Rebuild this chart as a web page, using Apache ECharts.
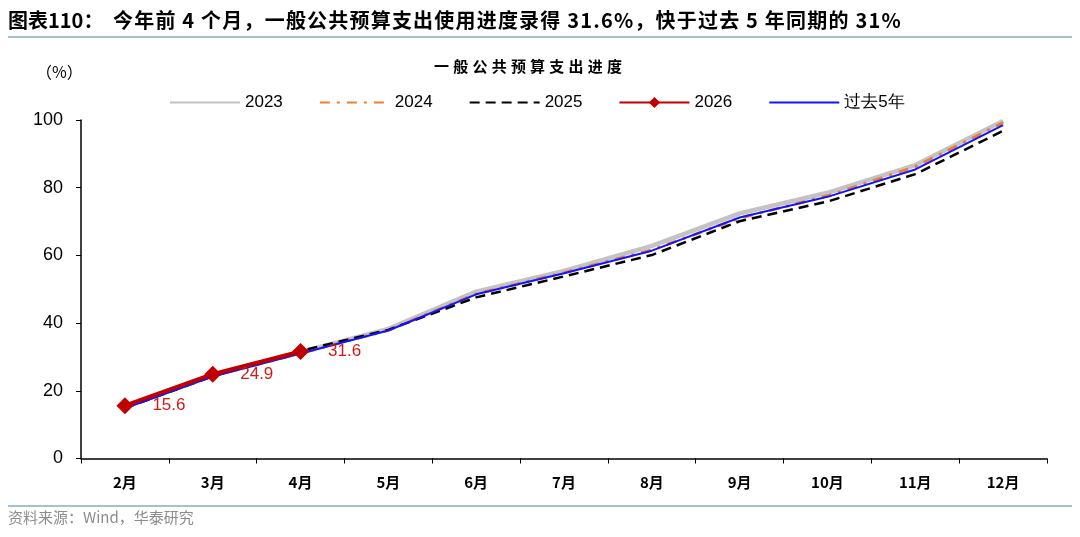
<!DOCTYPE html>
<html lang="zh">
<head>
  <meta charset="utf-8">
  <style>
    html, body { margin: 0; padding: 0; background: #fff; }
    #container { width: 1080px; height: 537px; }
  </style>
  <title>一般公共预算支出进度</title>
</head>
<body>
  <div id="container"></div>
  <script src="https://cdn.jsdelivr.net/npm/echarts@6/dist/echarts.min.js"></script>
  <script>
    // months on the x axis
    var months = ['2月', '3月', '4月', '5月', '6月', '7月', '8月', '9月', '10月', '11月', '12月'];
    // progress (%)
    var y2023 = [15.5, 24.8, 31.4, 38.3, 49.3, 55.4, 62.8, 72.4, 78.5, 86.7, 99.7];
    var y2024 = [15.0, 24.4, 31.1, 37.9, 48.6, 54.9, 61.6, 71.0, 77.6, 86.2, 99.2];
    var y2025 = [14.9, 24.3, 31.8, 38.0, 47.6, 53.8, 60.1, 70.1, 75.9, 84.0, 96.8];
    var y2026 = [15.6, 24.9, 31.6];
    var past5 = [14.8, 24.2, 31.0, 37.8, 48.5, 54.7, 61.4, 71.2, 77.3, 85.4, 98.5];
    var yTicks = [0, 20, 40, 60, 80, 100];

    var cjk = '"Noto Sans CJK SC", "Liberation Sans", sans-serif';
    var latin = '"Liberation Sans", Arial, sans-serif';

    // canvas text has no letter-spacing, so lay out characters one by one
    var measureCtx = document.createElement('canvas').getContext('2d');
    function spacedText(str, x, y, font, gap, fill) {
      measureCtx.font = font;
      var kids = [];
      var cx = 0;
      for (var i = 0; i < str.length; i++) {
        var ch = str[i];
        kids.push({ type: 'text', x: cx, y: 0, style: { text: ch, font: font, fill: fill, textVerticalAlign: 'middle' } });
        cx += measureCtx.measureText(ch).width + gap;
      }
      return { type: 'group', x: x, y: y, children: kids, width: cx - gap };
    }
    function centeredSpaced(str, cx, y, font, gap, fill) {
      var g = spacedText(str, 0, y, font, gap, fill);
      g.x = cx - g.width / 2;
      return g;
    }

    var chart = echarts.init(document.getElementById('container'));

    var option = {
      animation: false,
      textStyle: { fontFamily: latin },
      graphic: [
        spacedText('图表110：', 8, 20, 'bold 20px ' + cjk, 0, '#000'),
        spacedText('今年前 4 个月，一般公共预算支出使用进度录得 31.6%，快于过去 5 年同期的 31%',
                   113, 20, 'bold 20px ' + cjk, 1.2, '#000'),
        { type: 'rect', shape: { x: 8, y: 36, width: 1064, height: 2 }, style: { fill: '#a9bdd3' } },
        centeredSpaced('一般公共预算支出进度', 528, 66, 'bold 15px ' + cjk, 4.2, '#000'),
        { type: 'text', left: 36, top: 64,
          style: { text: '（%）', font: '16px ' + cjk, fill: '#000' } },
        { type: 'rect', shape: { x: 8, y: 505, width: 1064, height: 2 }, style: { fill: '#a9bdd3' } },
        { type: 'text', left: 8, top: 510,
          style: { text: '资料来源：Wind，华泰研究', font: '15px ' + cjk, fill: '#8c8c8c' } }
      ],
      legend: {
        left: 164,
        top: 89,
        itemWidth: 70,
        itemHeight: 14,
        itemGap: 36,
        textStyle: { fontSize: 17, color: '#000', fontFamily: latin },
        data: [
          { name: '2023', itemStyle: { opacity: 0 } },
          { name: '2024', itemStyle: { opacity: 0 } },
          { name: '2025', itemStyle: { opacity: 0 } },
          { name: '2026' },
          { name: '过去5年', itemStyle: { opacity: 0 } }
        ]
      },
      grid: { left: 81, right: 33, top: 120, bottom: 78.5 },
      xAxis: {
        type: 'category',
        data: months,
        boundaryGap: true,
        axisLine: { lineStyle: { color: '#000', width: 1.5 } },
        axisTick: { show: true, length: 5, inside: false, lineStyle: { color: '#000' } },
        axisLabel: { fontSize: 15, color: '#000', margin: 16, fontFamily: cjk, fontWeight: 'bold' }
      },
      yAxis: {
        type: 'value',
        min: yTicks[0],
        max: yTicks[yTicks.length - 1],
        interval: 20,
        splitLine: { show: false },
        axisLine: { show: true, lineStyle: { color: '#000', width: 1.5 } },
        axisTick: { show: true, length: 5, lineStyle: { color: '#000' } },
        axisLabel: { fontSize: 18, color: '#000', margin: 18 }
      },
      series: [
        { name: '2023', type: 'line', data: y2023, symbol: 'none',
          lineStyle: { color: '#c3c3c3', width: 4.5 }, itemStyle: { color: '#c3c3c3' } },
        { name: '2024', type: 'line', data: y2024, symbol: 'none',
          lineStyle: { color: '#ed7d31', width: 3, type: [10, 7, 3, 7] }, itemStyle: { color: '#ed7d31' } },
        { name: '2025', type: 'line', data: y2025, symbol: 'none',
          lineStyle: { color: '#000', width: 2.5, type: [10, 6] }, itemStyle: { color: '#000' } },
        { name: '过去5年', type: 'line', data: past5, symbol: 'none', z: 3,
          lineStyle: { color: '#1414ff', width: 2 }, itemStyle: { color: '#1414ff' } },
        { name: '2026', type: 'line', data: y2026, symbol: 'diamond', symbolSize: 17, z: 4,
          lineStyle: { color: '#c00000', width: 4 }, itemStyle: { color: '#c00000' },
          label: { show: true, position: 'right', distance: 19, fontSize: 17, color: '#d01a1a',
                   formatter: function (p) { return p.value.toFixed(1); } } }
      ]
    };

    chart.setOption(option);
  </script>
</body>
</html>
